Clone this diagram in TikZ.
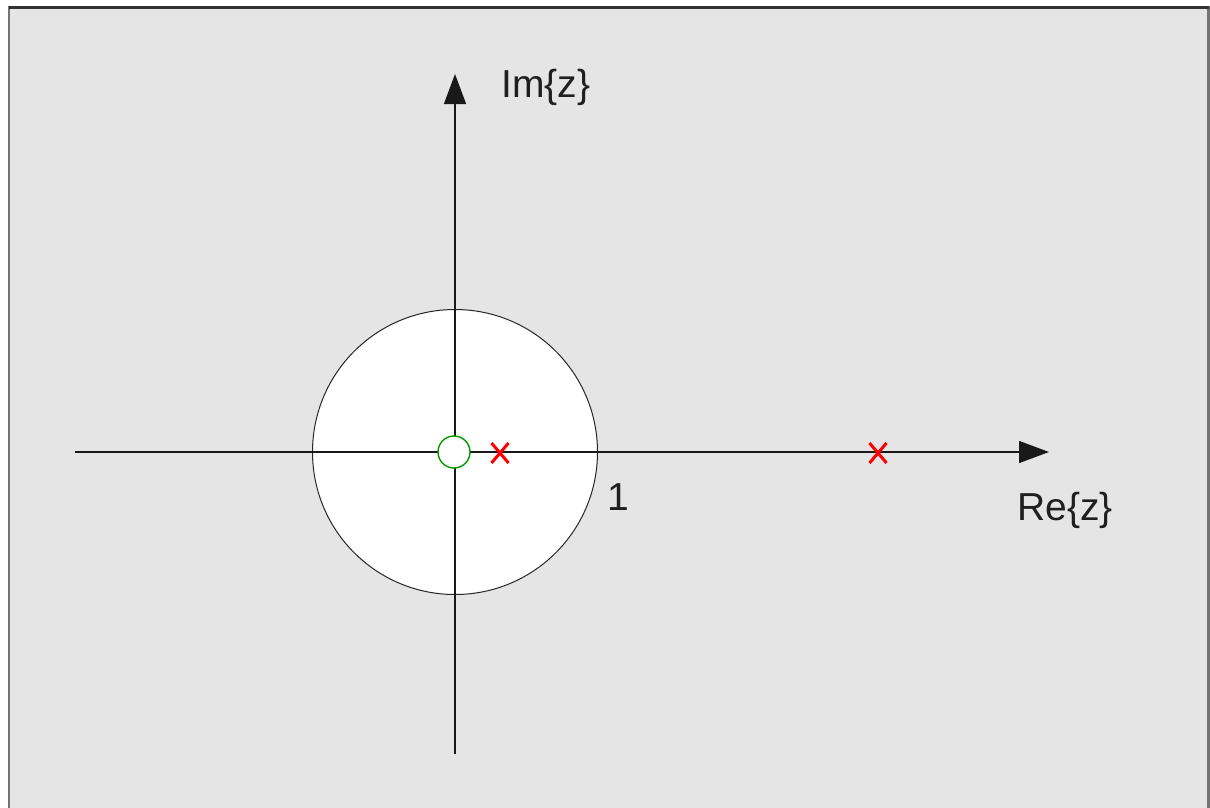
\documentclass[tikz,border=0pt]{standalone}
\usepackage{fontspec}
\setmainfont{Liberation Sans}
\usetikzlibrary{arrows.meta}
\begin{document}
\begin{tikzpicture}[x=1pt,y=-1pt,
  axis/.style={draw=black!90, line width=1.4pt, -{Triangle[length=30pt,width=22pt]}},
  lbl/.style={text=black!88, font=\fontsize{39}{44}\selectfont, inner sep=0pt}]
\useasboundingbox (0,0) rectangle (1210,807);
\fill[white] (0,0) rectangle (1210,807);
\filldraw[fill=black!10, draw=black!55, line width=2.5pt] (9,7.5) rectangle (1208.5,830);
\draw[black!80, line width=2.4pt] (9,7.5) -- (1208.5,7.5);
% unit circle
\node (uc) [circle, draw=black!85, fill=white, line width=1pt, minimum size=285pt, inner sep=0pt] at (455,452) {};
% axes
\coordinate (xs) at (75,452);
\coordinate (xe) at (1049,452);
\coordinate (ys) at (455,754);
\coordinate (ye) at (455,74);
\draw[axis] (xs) -- (xe);
\draw[axis] (ys) -- (ye);
% zero
\node (z0) [circle, draw=green!60!black, fill=white, line width=1.4pt, minimum size=32pt, inner sep=0pt] at (454,452) {};
% poles
\node (p1) [inner sep=0pt] at (500,453) {\tikz[x=1pt,y=1pt]{\draw[red,line width=3pt] (-8.5,-10)--(8.5,10) (-8.5,10)--(8.5,-10);}};
\node (p2) [inner sep=0pt] at (878,453) {\tikz[x=1pt,y=1pt]{\draw[red,line width=3pt] (-8.5,-10)--(8.5,10) (-8.5,10)--(8.5,-10);}};
% labels
\node (im) [lbl, anchor=west] at (501,87) {Im\{z\}};
\node (re) [lbl, anchor=west] at (1017,510) {Re\{z\}};
\node (one) [lbl] at (618,497) {1};
\end{tikzpicture}
\end{document}
